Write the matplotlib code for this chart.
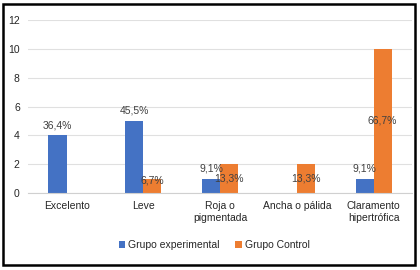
import numpy as np
import matplotlib.pyplot as plt
from matplotlib.patches import Rectangle

plt.rcParams['font.family'] = ['Liberation Sans', 'DejaVu Sans']

categorias = ['Excelento', 'Leve', 'Roja o\npigmentada', 'Ancha o pálida',
              'Claramento\nhipertrófica']
experimental = [4, 5, 1, 0, 1]
control = [0, 1, 2, 2, 10]
etiq_exp = ['36,4%', '45,5%', '9,1%', '', '9,1%']
etiq_ctrl = ['', '6,7%', '13,3%', '13,3%', '66,7%']

azul = '#4472C4'
naranja = '#ED7D31'

fig = plt.figure(figsize=(4.2, 2.7), dpi=100)
ax = fig.add_axes([0.067, 0.285, 0.914, 0.641])

x = np.arange(len(categorias))
w = 0.235
b1 = ax.bar(x - w / 2, experimental, w, color=azul, label='Grupo experimental')
b2 = ax.bar(x + w / 2, control, w, color=naranja, label='Grupo Control')

for rect, t in zip(b1, etiq_exp):
    if t:
        ax.text(rect.get_x() + rect.get_width() / 2, rect.get_height() + 0.35, t,
                ha='center', va='bottom', fontsize=7.5, color='#404040')
for rect, t in zip(b2, etiq_ctrl):
    if t:
        ax.text(rect.get_x() + rect.get_width() / 2, max(rect.get_height() / 2, 0.85), t,
                ha='center', va='center', fontsize=7.5, color='#404040')

ax.set_xlim(-0.5, 4.5)
ax.set_ylim(0, 12)
ax.set_yticks(range(0, 13, 2))
ax.set_xticks(x)
ax.set_xticklabels(categorias, fontsize=7.5, color='#262626')
ax.tick_params(axis='y', labelsize=7.5, labelcolor='#262626', length=0, pad=6)
ax.tick_params(axis='x', length=0, pad=6)
ax.grid(axis='y', color='#e0e0e0', linewidth=0.8)
ax.set_axisbelow(True)
for s in ['top', 'right', 'left']:
    ax.spines[s].set_visible(False)
ax.spines['bottom'].set_color('#d0d0d0')

fig.legend(loc='center', bbox_to_anchor=(0.51, 0.092), ncol=2, frameon=False,
           fontsize=7.5, handlelength=0.6, handleheight=0.6, handletextpad=0.3,
           columnspacing=1.5, labelcolor='#262626')

fig.patches.append(Rectangle((0.007, 0.017), 0.982, 0.97, transform=fig.transFigure,
                             fill=False, edgecolor='black', linewidth=1.8))

fig.savefig('out.png', dpi=100)
